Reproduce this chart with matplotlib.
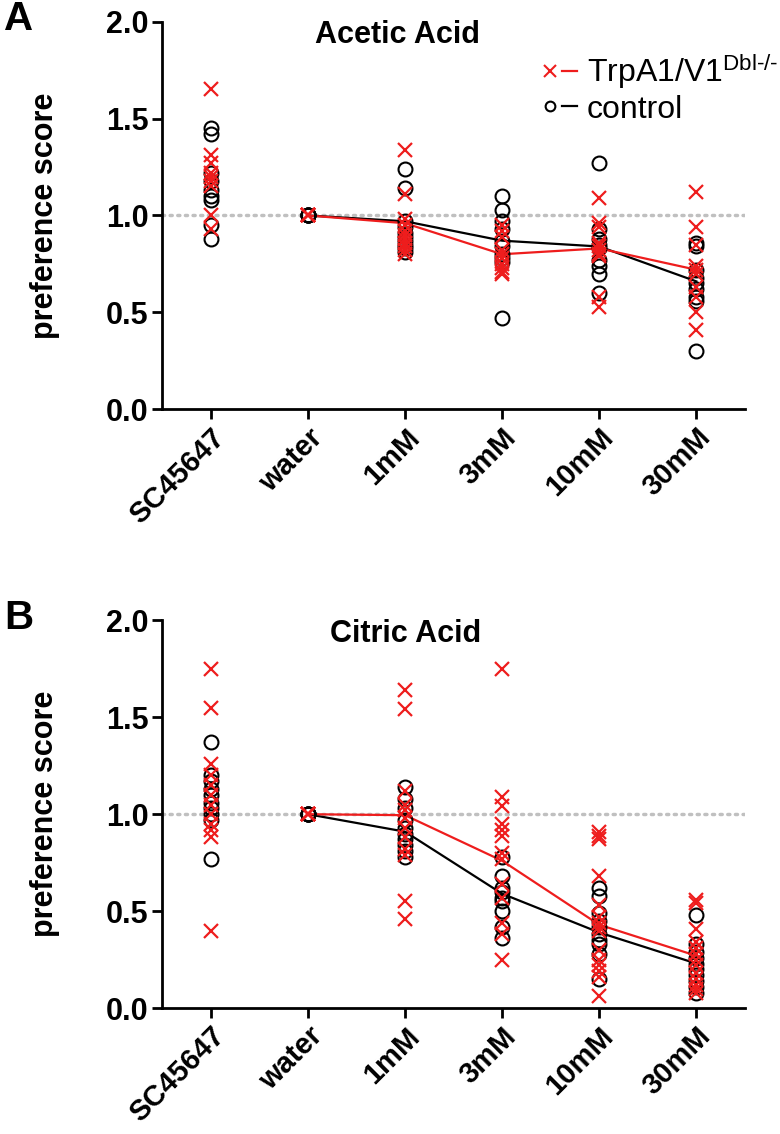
import matplotlib
matplotlib.use("Agg")
import matplotlib.pyplot as plt
from matplotlib.lines import Line2D
from matplotlib.legend_handler import HandlerTuple

plt.rcParams['font.family'] = ['Liberation Sans', 'DejaVu Sans']
plt.rcParams['mathtext.default'] = 'regular'

categories = ['SC45647', 'water', '1mM', '3mM', '10mM', '30mM']

# panel A, acetic acid: individual scores per category
acetic_trp = [
    [1.65, 1.31, 1.27, 1.22, 1.20, 1.18, 1.15, 1.00, 0.93],
    [1.00, 1.00, 1.00, 1.00, 1.00],
    [1.34, 1.11, 0.98, 0.95, 0.92, 0.90, 0.88, 0.86, 0.84, 0.82, 0.80],
    [0.95, 0.92, 0.89, 0.82, 0.80, 0.78, 0.75, 0.73, 0.71, 0.70],
    [1.09, 0.96, 0.94, 0.86, 0.84, 0.82, 0.80, 0.79, 0.58, 0.53],
    [1.12, 0.94, 0.85, 0.74, 0.72, 0.70, 0.63, 0.58, 0.50, 0.41],
]
acetic_ctrl = [
    [1.45, 1.42, 1.22, 1.18, 1.13, 1.10, 1.08, 0.95, 0.88],
    [1.00, 1.00, 1.00, 1.00, 1.00],
    [1.24, 1.14, 0.97, 0.94, 0.91, 0.89, 0.87, 0.85, 0.83, 0.81],
    [1.10, 1.03, 0.97, 0.93, 0.87, 0.84, 0.80, 0.78, 0.76, 0.47],
    [1.27, 0.93, 0.88, 0.85, 0.83, 0.77, 0.74, 0.70, 0.60],
    [0.86, 0.84, 0.72, 0.68, 0.65, 0.62, 0.58, 0.56, 0.30],
]
acetic_trp_mean = [1.00, 0.96, 0.80, 0.83, 0.72]   # water .. 30mM
acetic_ctrl_mean = [1.00, 0.97, 0.87, 0.84, 0.66]

# panel B, citric acid
citric_trp = [
    [1.75, 1.55, 1.26, 1.20, 1.15, 1.10, 1.05, 1.00, 0.95, 0.92, 0.88, 0.40],
    [1.00, 1.00, 1.00, 1.00, 1.00],
    [1.64, 1.54, 1.12, 1.05, 1.02, 0.98, 0.93, 0.88, 0.82, 0.79, 0.55, 0.46],
    [1.75, 1.09, 1.04, 0.95, 0.92, 0.89, 0.80, 0.77, 0.64, 0.57, 0.44, 0.38, 0.25],
    [0.91, 0.89, 0.87, 0.68, 0.53, 0.47, 0.44, 0.42, 0.40, 0.30, 0.25, 0.22, 0.19, 0.16, 0.06],
    [0.56, 0.54, 0.41, 0.34, 0.31, 0.28, 0.25, 0.22, 0.18, 0.15, 0.12, 0.10, 0.08],
]
citric_ctrl = [
    [1.37, 1.20, 1.17, 1.13, 1.10, 1.06, 1.03, 1.00, 0.97, 0.77],
    [1.00, 1.00, 1.00, 1.00, 1.00],
    [1.14, 1.08, 1.03, 0.97, 0.93, 0.90, 0.87, 0.84, 0.81, 0.78],
    [0.78, 0.68, 0.62, 0.60, 0.57, 0.55, 0.50, 0.42, 0.36],
    [0.62, 0.58, 0.49, 0.45, 0.42, 0.38, 0.35, 0.33, 0.28, 0.15],
    [0.48, 0.33, 0.29, 0.26, 0.23, 0.20, 0.17, 0.14, 0.11, 0.08],
]
citric_trp_mean = [1.00, 0.995, 0.76, 0.43, 0.27]
citric_ctrl_mean = [1.00, 0.91, 0.59, 0.39, 0.23]

RED = '#ee1d1d'
fig = plt.figure(figsize=(7.8, 11.34), dpi=100)


def panel(rect, title, title_x, trp, ctrl, trp_mean, ctrl_mean, letter):
    ax = fig.add_axes(rect)
    ax.axhline(1.0, color='#c0c0c0', lw=2.5, ls=(0, (0.6, 1.6)), dash_capstyle='round', zorder=1)
    for i in range(len(categories)):
        ax.plot([i] * len(ctrl[i]), ctrl[i], 'o', ms=10, mfc='none', mec='black', mew=1.5, zorder=3)
        ax.plot([i] * len(trp[i]), trp[i], 'x', ms=10, color=RED, mew=1.6, zorder=4)
    xs = range(1, len(categories))
    ax.plot(xs, ctrl_mean, color='black', lw=1.6, zorder=2)
    ax.plot(xs, trp_mean, color=RED, lw=1.6, zorder=2)

    ax.set_xlim(-0.5, 5.5)
    ax.set_ylim(0, 2.0)
    ax.set_yticks([0, 0.5, 1.0, 1.5, 2.0])
    ax.set_yticklabels(['0.0', '0.5', '1.0', '1.5', '2.0'])
    ax.set_xticks(range(len(categories)))
    ax.set_xticklabels(categories, rotation=45, ha='right', rotation_mode='anchor')
    for s in ['top', 'right']:
        ax.spines[s].set_visible(False)
    for s in ['left', 'bottom']:
        ax.spines[s].set_linewidth(2)
    ax.tick_params(width=2, length=7, pad=3)
    ax.tick_params(axis='y', labelsize=22)
    ax.tick_params(axis='x', labelsize=21)
    for lab in ax.get_xticklabels() + ax.get_yticklabels():
        lab.set_fontweight('bold')
    ax.set_ylabel('preference score', fontsize=22, fontweight='bold', labelpad=33)
    ax.text(title_x, 0.965, title, transform=ax.transAxes, ha='center', va='center',
            fontsize=22, fontweight='bold')
    fig.text(0.024, rect[1] + rect[3] + 0.002, letter, fontsize=29, fontweight='bold',
             ha='center', va='center')
    return ax


axA = panel([0.208, 0.639, 0.747, 0.342], 'Acetic Acid', 0.403,
            acetic_trp, acetic_ctrl, acetic_trp_mean, acetic_ctrl_mean, 'A')
panel([0.208, 0.111, 0.747, 0.342], 'Citric Acid', 0.417,
      citric_trp, citric_ctrl, citric_trp_mean, citric_ctrl_mean, 'B')

h_trp = (Line2D([], [], marker='x', ls='none', color=RED, ms=8, mew=1.5),
         Line2D([], [], color=RED, lw=1.6))
h_ctrl = (Line2D([], [], marker='o', ls='none', mfc='none', mec='black', ms=7, mew=1.5),
          Line2D([], [], color='black', lw=1.6))
axA.legend([h_trp, h_ctrl], ['TrpA1/V1$^{Dbl\u2010/\u2010}$', 'control'],
           handler_map={tuple: HandlerTuple(ndivide=None, pad=0.15)},
           loc='upper left', bbox_to_anchor=(0.63, 0.955), frameon=False,
           fontsize=23, handlelength=1.1, handletextpad=0.3, labelspacing=0.12,
           borderaxespad=0)

fig.savefig('out.png', dpi=100)
